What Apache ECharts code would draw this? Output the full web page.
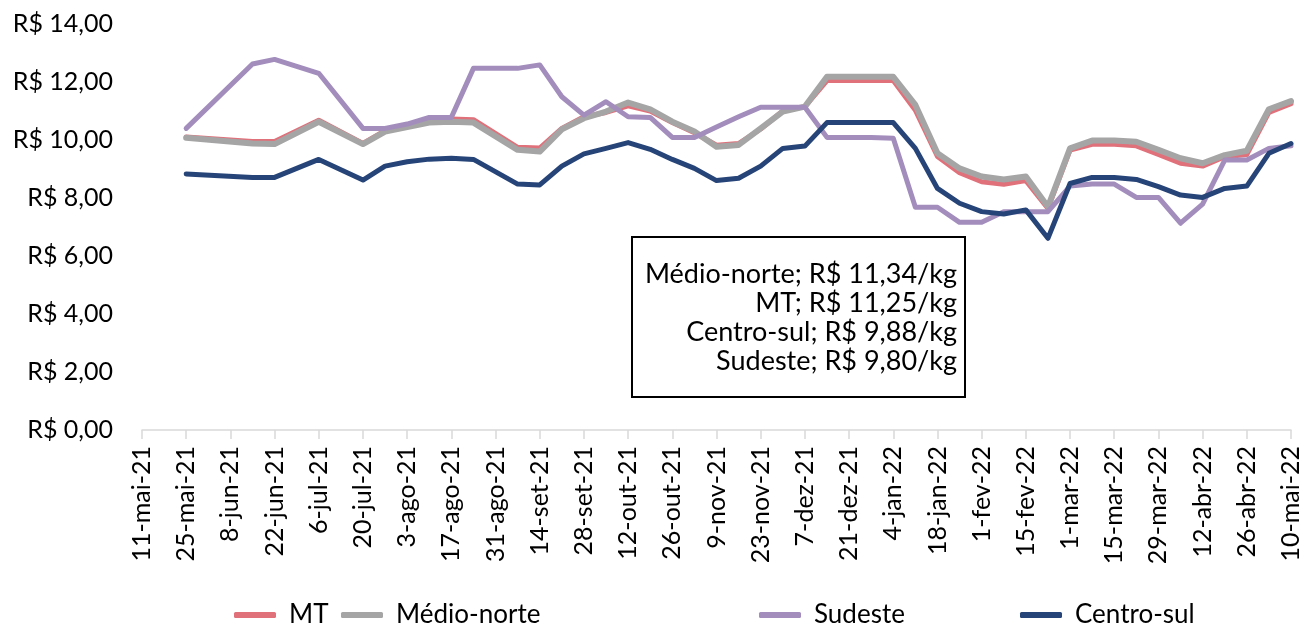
<!DOCTYPE html>
<html>
<head>
<meta charset="utf-8">
<script src="https://cdn.jsdelivr.net/npm/echarts@6/dist/echarts.min.js"></script>
<style>
  html, body { margin: 0; padding: 0; background: #fff; }
  #chart { width: 1305px; height: 627px; }
</style>
</head>
<body>
<div id="chart"></div>
<script>
// semanas (terças) de 11-mai-21 a 10-mai-22
const semanas = [
  '11-mai-21', '18-mai-21', '25-mai-21', '1-jun-21', '8-jun-21', '15-jun-21', '22-jun-21', '29-jun-21',
  '6-jul-21', '13-jul-21', '20-jul-21', '27-jul-21', '3-ago-21', '10-ago-21', '17-ago-21', '24-ago-21',
  '31-ago-21', '7-set-21', '14-set-21', '21-set-21', '28-set-21', '5-out-21', '12-out-21', '19-out-21',
  '26-out-21', '2-nov-21', '9-nov-21', '16-nov-21', '23-nov-21', '30-nov-21', '7-dez-21', '14-dez-21',
  '21-dez-21', '28-dez-21', '4-jan-22', '11-jan-22', '18-jan-22', '25-jan-22', '1-fev-22', '8-fev-22',
  '15-fev-22', '22-fev-22', '1-mar-22', '8-mar-22', '15-mar-22', '22-mar-22', '29-mar-22', '5-abr-22',
  '12-abr-22', '19-abr-22', '26-abr-22', '3-mai-22', '10-mai-22'
];

// R$/kg, null = semana sem cotação (linha ligada)
const mt = [
  null, null, 10.10, null, null, 9.95, 9.95, null, 10.68, null, 9.88, 10.32, 10.47, 10.65, 10.72, 10.70,
  null, 9.75, 9.72, 10.40, 10.80, 10.95, 11.18, 11.00, 10.60, 10.25, 9.82, 9.88, 10.38, 11.00, 11.15, 12.05,
  12.05, 12.05, 12.05, 11.03, 9.43, 8.87, 8.56, 8.47, 8.60, 7.64, 9.65, 9.85, 9.85, 9.80, 9.50, 9.20,
  9.10, 9.42, 9.50, 10.95, 11.25
];
const medioNorte = [
  null, null, 10.08, null, null, 9.88, 9.86, null, 10.63, null, 9.86, 10.29, 10.45, 10.60, 10.63, 10.60,
  null, 9.66, 9.60, 10.37, 10.75, 10.98, 11.29, 11.06, 10.63, 10.29, 9.77, 9.83, 10.40, 10.98, 11.15, 12.18,
  12.18, 12.18, 12.18, 11.21, 9.54, 9.02, 8.74, 8.64, 8.74, 7.70, 9.71, 9.98, 9.98, 9.94, 9.66, 9.37,
  9.20, 9.48, 9.63, 11.06, 11.34
];
const sudeste = [
  null, null, 10.40, null, null, 12.62, 12.78, null, 12.30, null, 10.40, 10.40, 10.55, 10.78, 10.78, 12.47,
  null, 12.47, 12.59, 11.49, 10.86, 11.32, 10.80, 10.78, 10.09, 10.09, 10.45, 10.80, 11.13, 11.13, 11.13, 10.09,
  10.09, 10.09, 10.06, 7.68, 7.68, 7.16, 7.16, 7.53, 7.53, 7.53, 8.41, 8.48, 8.48, 8.02, 8.02, 7.13,
  7.79, 9.31, 9.31, 9.71, 9.80
];
const centroSul = [
  null, null, 8.83, null, null, 8.71, 8.71, null, 9.33, null, 8.62, 9.10, 9.25, 9.34, 9.37, 9.33,
  null, 8.48, 8.45, 9.10, 9.52, 9.71, 9.91, 9.68, 9.33, 9.02, 8.60, 8.68, 9.10, 9.71, 9.79, 10.60,
  10.60, 10.60, 10.60, 9.71, 8.33, 7.82, 7.53, 7.45, 7.59, 6.61, 8.50, 8.71, 8.71, 8.64, 8.39, 8.10,
  8.02, 8.33, 8.41, 9.54, 9.88
];

const destaque = [
  'Médio-norte; R$ 11,34/kg',
  'MT; R$ 11,25/kg',
  'Centro-sul; R$ 9,88/kg',
  'Sudeste; R$ 9,80/kg'
];

const fonte = 'Lato, "Open Sans", sans-serif';

const myChart = echarts.init(document.getElementById('chart'));

function linha(nome, dados, cor, largura) {
  return {
    name: nome,
    type: 'line',
    data: dados,
    connectNulls: true,
    showSymbol: false,
    symbol: 'none',
    lineStyle: { color: cor, width: largura, join: 'round', cap: 'round' },
    itemStyle: { color: cor }
  };
}

function legenda(nome, left) {
  return {
    data: [nome],
    left: left,
    top: 597,
    icon: 'roundRect',
    itemWidth: 42,
    itemHeight: 6,
    itemGap: 0,
    textStyle: { fontFamily: fonte, fontSize: 26, color: '#000', padding: [0, 0, 0, 8] }
  };
}

const option = {
  animation: false,
  backgroundColor: '#fff',
  grid: { left: 142, right: 14, top: 24, bottom: 197 },
  xAxis: {
    type: 'category',
    data: semanas,
    boundaryGap: false,
    axisLine: { lineStyle: { color: '#D9D9D9', width: 1.5 } },
    axisTick: { interval: 1, length: 9, lineStyle: { color: '#D9D9D9', width: 1.5 } },
    axisLabel: {
      interval: 1,
      rotate: 90,
      margin: 16,
      fontFamily: fonte,
      fontSize: 25,
      color: '#000'
    }
  },
  yAxis: {
    type: 'value',
    min: 0,
    max: 14,
    interval: 2,
    axisLine: { show: false },
    axisTick: { show: false },
    splitLine: { show: false },
    axisLabel: {
      margin: 29,
      fontFamily: fonte,
      fontSize: 25,
      color: '#000',
      formatter: (v) => 'R$ ' + v.toFixed(2).replace('.', ',')
    }
  },
  legend: [
    legenda('MT', 229),
    legenda('Médio-norte', 336),
    legenda('Sudeste', 754),
    legenda('Centro-sul', 1015)
  ],
  graphic: [
    {
      type: 'rect',
      shape: { x: 632, y: 237, width: 333, height: 160 },
      style: { fill: '#fff', stroke: '#000', lineWidth: 2 },
      z: 10
    },
    {
      type: 'text',
      x: 957,
      y: 260,
      z: 11,
      style: {
        text: destaque.join('\n'),
        textAlign: 'right',
        textVerticalAlign: 'top',
        font: '27px ' + fonte,
        lineHeight: 29,
        fill: '#000'
      }
    }
  ],
  series: [
    linha('MT', mt, '#E0707A', 5),
    linha('Médio-norte', medioNorte, '#A5A5A5', 6),
    linha('Sudeste', sudeste, '#A28DBD', 5),
    linha('Centro-sul', centroSul, '#264478', 5)
  ]
};

myChart.setOption(option);
</script>
</body>
</html>
